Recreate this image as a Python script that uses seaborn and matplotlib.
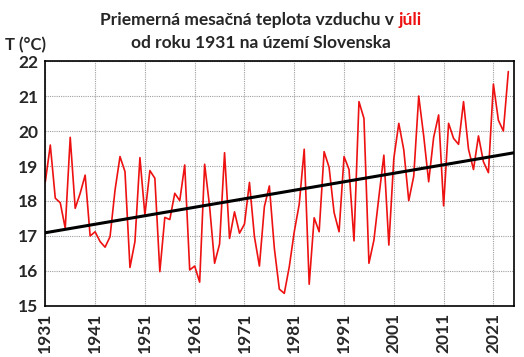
import numpy as np
import matplotlib
matplotlib.use("Agg")
import matplotlib.pyplot as plt
import seaborn as sns
import pandas as pd

# priemerna teplota v juli, 1931-2024
years = list(range(1931, 2025))
temp = [18.55, 19.60, 18.08, 17.95, 17.22, 19.82, 17.79, 18.22, 18.74, 17.00,
        17.12, 16.84, 16.68, 16.98, 18.31, 19.27, 18.84, 16.10, 16.84, 19.24,
        17.60, 18.87, 18.65, 15.98, 17.53, 17.47, 18.22, 18.01, 19.03, 16.03,
        16.14, 15.68, 19.05, 17.84, 16.22, 16.77, 19.38, 16.93, 17.69, 17.08,
        17.34, 18.53, 16.98, 16.14, 17.84, 18.43, 16.65, 15.48, 15.36, 16.12,
        17.12, 17.91, 19.48, 15.62, 17.52, 17.12, 19.41, 18.96, 17.67, 17.12,
        19.27, 18.90, 16.86, 20.84, 20.36, 16.22, 16.88, 18.12, 19.31, 16.74,
        19.22, 20.22, 19.46, 18.01, 18.71, 21.00, 19.86, 18.55, 19.82, 20.46,
        17.86, 20.22, 19.79, 19.62, 20.84, 19.48, 18.90, 19.86, 19.12, 18.81,
        21.34, 20.31, 20.00, 21.70]
xticks = list(range(1931, 2022, 10))
yticks = list(range(15, 23))

df = pd.DataFrame({"rok": years, "T": temp})

sns.set_style("white")
plt.rcParams['font.family'] = ['Lato', 'DejaVu Sans']
plt.rcParams['font.weight'] = 'bold'

fig = plt.figure(figsize=(5.24, 3.57), dpi=100)
ax = fig.add_axes([0.0865, 0.143, 0.895, 0.686])

ax.set_xlim(1931, 2025.2)
ax.set_ylim(15, 22)
ax.grid(True, color="#a0a0a0", linestyle=(0, (1, 1)), linewidth=0.8)
ax.set_axisbelow(True)

sns.lineplot(data=df, x="rok", y="T", color="#ee1111", linewidth=1.2, ax=ax)
sns.regplot(data=df, x="rok", y="T", scatter=False, ci=None, truncate=False,
            color="black", line_kws={"linewidth": 2.2}, ax=ax)

ax.set_xticks(xticks)
ax.set_xticklabels([str(y) for y in xticks], rotation=90, fontsize=12.5, fontweight="bold")
ax.set_yticks(yticks)
ax.set_yticklabels([str(y) for y in yticks], fontsize=12.5, fontweight="bold")
ax.tick_params(axis="both", length=3, width=0.8, color="#555555", pad=2)
ax.set_xlabel("")
ax.set_ylabel("")
for s in ax.spines.values():
    s.set_color("black")
    s.set_linewidth(1.2)

fig.text(0.01, 1 - 45 / 357, "T (°C)", fontsize=12, fontweight="bold", ha="left", va="center")

# nadpis, "júli" cervenou
fig.canvas.draw()
r = fig.canvas.get_renderer()
t1 = fig.text(0, 1 - 20 / 357, "Priemerná mesačná teplota vzduchu v ", fontsize=12.5,
              fontweight="bold", ha="left", va="center")
t2 = fig.text(0, 1 - 20 / 357, "júli", fontsize=12.5, fontweight="bold",
              color="#ee1111", ha="left", va="center")
w1 = t1.get_window_extent(r).width / fig.bbox.width
w2 = t2.get_window_extent(r).width / fig.bbox.width
x0 = 261 / 524 - (w1 + w2) / 2
t1.set_x(x0)
t2.set_x(x0 + w1)
fig.text(261 / 524, 1 - 43 / 357, "od roku 1931 na území Slovenska", fontsize=12.5,
         fontweight="bold", ha="center", va="center")

fig.savefig("out.png", dpi=100)
